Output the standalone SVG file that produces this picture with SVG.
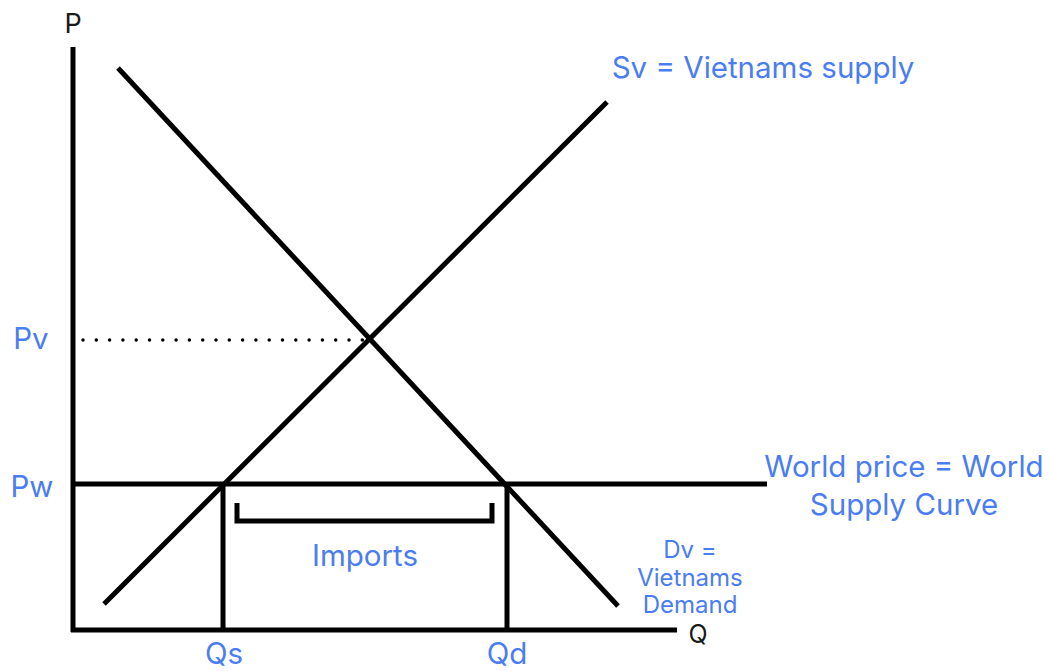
<svg xmlns="http://www.w3.org/2000/svg" width="1049" height="671" viewBox="0 0 1049 671">
<style>
.ln{stroke:#000;stroke-width:5;fill:none;stroke-linecap:butt}
.bl{fill:#4a7cf2;font-family:Inter,"Liberation Sans",sans-serif;text-anchor:middle}
.bk{fill:#1a1a1a;font-family:Inter,"Liberation Sans",sans-serif;text-anchor:middle}
.lg{font-size:29.5px}
.sm{font-size:24px}
</style>
<rect width="1049" height="671" fill="#fff"/>
<g id="axes">
<line class="ln" x1="73" y1="47" x2="73" y2="632"/>
<line class="ln" x1="71" y1="630" x2="677" y2="630"/>
<text class="bk" x="73" y="33" font-size="27">P</text>
<text class="bk" x="698" y="643" font-size="25">Q</text>
</g>
<g id="connectors">
<line class="ln" x1="118" y1="68" x2="618" y2="606"/>
<line class="ln" x1="104" y1="604" x2="607" y2="102"/>
<line x1="83" y1="340" x2="370" y2="340" stroke="#000" stroke-width="3.5" stroke-linecap="round" stroke-dasharray="0 13.3"/>
<line class="ln" x1="71" y1="484" x2="767" y2="484"/>
<line class="ln" x1="223" y1="484" x2="223" y2="630"/>
<line class="ln" x1="507" y1="484" x2="507" y2="630"/>
<polyline class="ln" points="237,503 237,521 492,521 492,503"/>
</g>
<g id="labels">
<text class="bl lg" x="763" y="78">Sv = Vietnams supply</text>
<text class="bl lg" x="31" y="349">Pv</text>
<text class="bl lg" x="32" y="497">Pw</text>
<text class="bl lg" x="365" y="566">Imports</text>
<text class="bl lg" x="224" y="664">Qs</text>
<text class="bl lg" x="507" y="664">Qd</text>
<text class="bl lg" x="904" y="477">World price = World</text>
<text class="bl lg" x="904" y="515">Supply Curve</text>
<text class="bl sm" x="690" y="558">Dv =</text>
<text class="bl sm" x="690" y="586">Vietnams</text>
<text class="bl sm" x="690" y="613">Demand</text>
</g>
</svg>
